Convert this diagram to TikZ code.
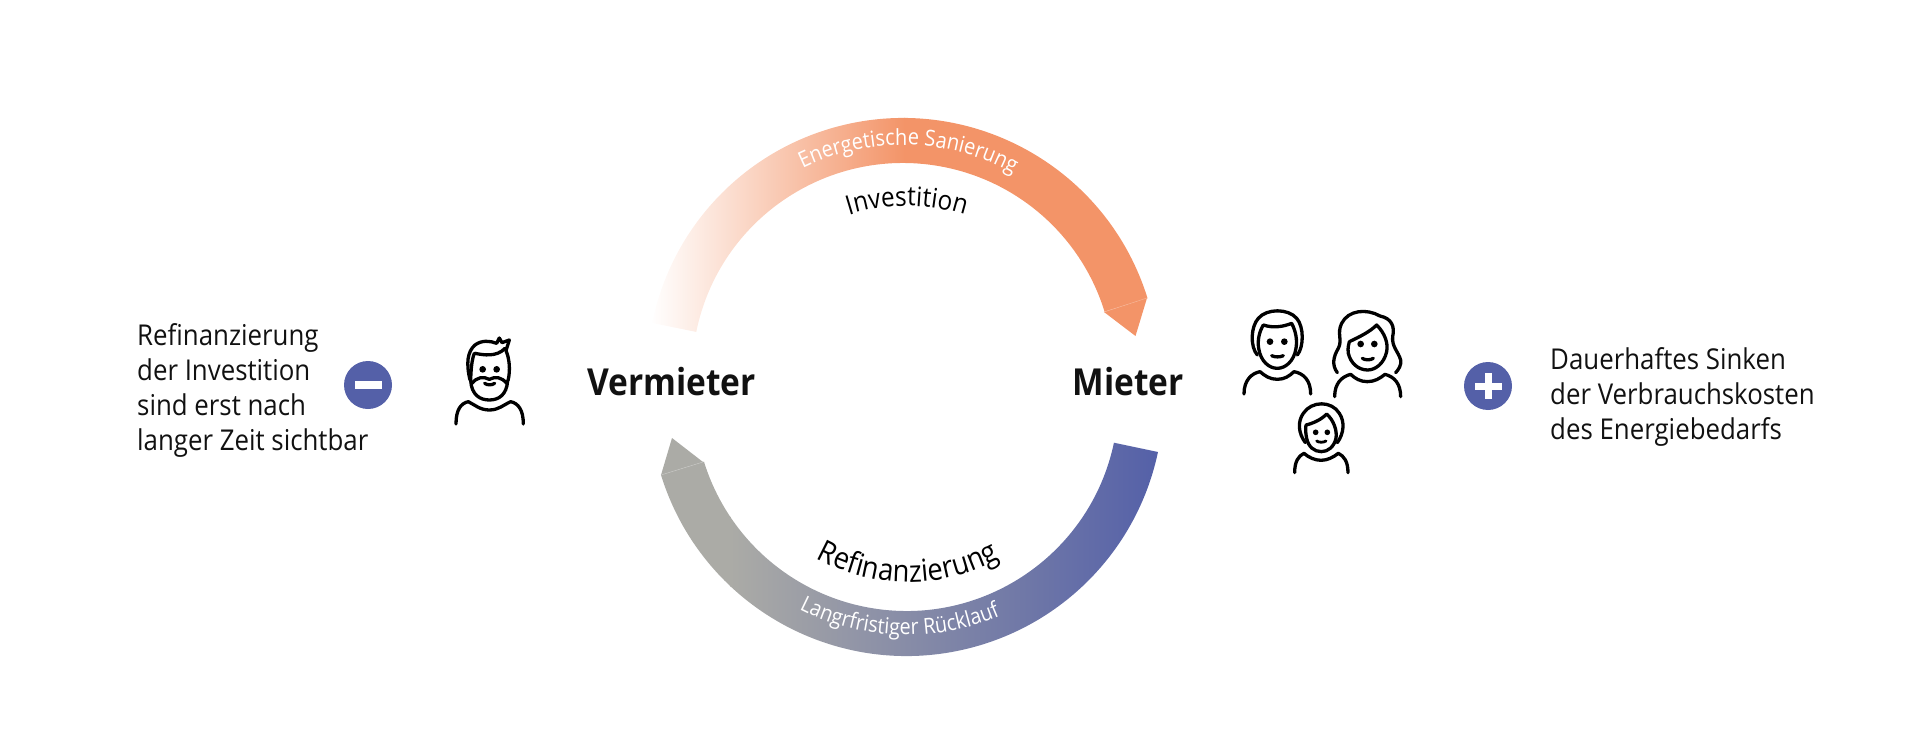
\documentclass[tikz,border=0pt]{standalone}
\usepackage{fontspec}
\usetikzlibrary{decorations.text}
\setmainfont[FakeStretch=0.9]{Open Sans}
\definecolor{orangeA}{HTML}{F39468}
\definecolor{blueA}{HTML}{5460A8}
\definecolor{grayA}{HTML}{ABABA6}
\definecolor{inkA}{HTML}{111111}
\newcommand{\bandpath}[6]{% cx cy Rout Rin a1 a2
  ({#1+#3*cos(#5)},{#2-#3*sin(#5)}) arc[start angle=#5,end angle=#6,radius=#3pt] --
  ({#1+#4*cos(#6)},{#2-#4*sin(#6)}) arc[start angle=#6,end angle=#5,radius=#4pt] -- cycle}
\newcommand{\circlepath}[5]{% cx cy R a1 a2
  ({#1+#3*cos(#4)},{#2-#3*sin(#4)}) arc[start angle=#4,end angle=#5,radius=#3pt]}
\tikzset{
  icon/.style={line width=3.3,line cap=round,line join=round,draw=black,fill=none},
  dot/.style={fill=black,draw=none},
  bodytext/.style={font=\fontsize{28.7}{34.8}\selectfont,text=inkA,align=left,anchor=base west,inner sep=0pt},
  actor/.style={font=\fontsize{37.2}{40}\selectfont\bfseries,text=inkA,anchor=base,inner sep=0pt},
  badge/.style={circle,fill=blueA,minimum size=48,inner sep=0pt}
}
\begin{document}
\begin{tikzpicture}[x=1pt,y=-1pt]
\useasboundingbox (0,0) rectangle (1920,752);
% top arc
\begin{scope}
  \clip \bandpath{903}{374}{256}{211}{17.2}{168.5};
  \shade[left color=white,right color=orangeA] (650,100) rectangle (905,350);
  \fill[orangeA] (904,100) rectangle (1160,350);
\end{scope}
\fill[orangeA] (1147,298) -- (1104,312) -- (1135.5,336) -- cycle;
\draw[orangeA!70!white,line width=.5] (1104,312) -- (1147,298);
% bottom arc
\begin{scope}
  \clip \bandpath{906.5}{399}{257}{212}{197.2}{348.1};
  \shade[left color=grayA,right color=blueA] (730,440) rectangle (1160,665);
  \fill[grayA] (650,430) rectangle (731,665);
\end{scope}
\fill[grayA] (661,475) -- (703,462) -- (672,438) -- cycle;
\draw[grayA!70!white,line width=.5] (661,475) -- (703,462);
% curved labels
\path[decorate,decoration={text along path,text align=center,text color=white,
  text={|\fontsize{22.2}{26}\selectfont|Energetische Sanierung}}]
  \circlepath{903}{374}{229}{133.6}{43.6};
\path[decorate,decoration={text along path,text align=center,text color=black,
  text={|\fontsize{27}{32}\selectfont|Investition}}]
  \circlepath{907}{396}{190}{135}{45};
\path[decorate,decoration={text along path,text align=center,text color=black,
  text={|\fontsize{30.4}{34}\selectfont|Refinanzierung}}]
  \circlepath{908}{392}{190}{225}{315};
\path[decorate,decoration={text along path,text align=center,text color=white,
  text={|\fontsize{22}{26}\selectfont|Langrfristiger Rücklauf}}]
  \circlepath{906.5}{399}{236}{223.2}{313.2};
% actors
\node[actor] (vermieter) at (671.5,395) {Vermieter};
\node[actor] (mieter) at (1128,395) {Mieter};
% side text
\node[bodytext] (lefttext) at (137,450) {Refinanzierung\\der Investition\\sind erst nach\\langer Zeit sichtbar};
\node[bodytext] (righttext) at (1550,439.5) {Dauerhaftes Sinken\\der Verbrauchskosten\\des Energiebedarfs};
% badges
\node[badge] (minus) at (368,385) {};
\fill[white] (354.5,381) rectangle (381.5,389);
\node[badge] (plus) at (1488,386) {};
\fill[white] (1474.5,382.5) rectangle (1501.5,389.5);
\fill[white] (1484.5,373) rectangle (1491.5,399);
% landlord
\begin{scope}[shift={(440,320)},x=.3333pt,y=-.3333pt]
  \draw[icon] (48,312) .. controls (48,270) and (62,250) .. (85,245) .. controls (105,255) and (120,270) .. (148,270) .. controls (176,270) and (190,255) .. (212,245) .. controls (235,250) and (250,270) .. (250,312);
  \draw[icon] (90,180) .. controls (78,130) and (82,95) .. (105,75) .. controls (125,60) and (150,62) .. (170,70) -- (178,54) -- (186,68) -- (208,60) -- (198,92) .. controls (208,115) and (212,150) .. (204,182);
  \draw[icon] (92,182) .. controls (95,225) and (120,240) .. (148,240) .. controls (176,240) and (200,225) .. (203,182);
  \draw[icon] (105,100) .. controls (130,105) and (170,112) .. (195,85);
  \draw[icon] (103,100) .. controls (95,120) and (93,150) .. (92,180);
  \draw[icon] (96,190) .. controls (110,172) and (130,168) .. (148,178) .. controls (166,168) and (186,172) .. (200,190);
  \fill[dot] (128,148) circle (10) (170,148) circle (10);
  \draw[icon] (134,190) .. controls (142,196) and (156,196) .. (164,190);
\end{scope}
% family
\begin{scope}[shift={(1220,290)},x=.3333pt,y=-.3333pt]
  % father
  \draw[icon] (72,312) .. controls (72,270) and (95,250) .. (120,245) .. controls (135,258) and (150,268) .. (172,268) .. controls (194,268) and (208,258) .. (222,245) .. controls (250,250) and (272,270) .. (272,312);
  \draw[icon] (112,195) .. controls (90,170) and (92,110) .. (115,85) .. controls (140,55) and (205,55) .. (230,85) .. controls (252,110) and (252,170) .. (232,195);
  \draw[icon] (130,105) .. controls (160,115) and (190,110) .. (215,100) .. controls (228,125) and (232,150) .. (228,175) .. controls (222,215) and (195,235) .. (172,235) .. controls (148,235) and (122,215) .. (116,175) .. controls (112,150) and (118,125) .. (130,105);
  \fill[dot] (150,155) circle (10) (193,155) circle (10);
  \draw[icon] (155,197) .. controls (165,202) and (180,202) .. (190,197);
  % mother
  \draw[icon] (344,320) .. controls (344,280) and (365,260) .. (392,253) .. controls (405,265) and (420,275) .. (442,275) .. controls (464,275) and (480,265) .. (495,253) .. controls (522,260) and (542,280) .. (542,320);
  \draw[icon] (352,248) .. controls (335,225) and (340,200) .. (355,175) .. controls (368,150) and (350,130) .. (365,100) .. controls (385,60) and (440,55) .. (480,78) .. controls (515,85) and (525,110) .. (518,140) .. controls (515,170) and (535,185) .. (542,210) .. controls (545,225) and (535,240) .. (527,248);
  \draw[icon] (388,155) .. controls (420,140) and (450,125) .. (470,105) .. controls (495,130) and (505,160) .. (500,185) .. controls (492,222) and (465,240) .. (443,240) .. controls (415,240) and (392,220) .. (385,190) .. controls (383,175) and (385,165) .. (388,155);
  \fill[dot] (422,162) circle (10) (463,162) circle (10);
  \draw[icon] (427,205) .. controls (435,211) and (452,211) .. (460,205);
  % child
  \draw[icon] (224,548) .. controls (224,515) and (235,498) .. (252,490) .. controls (265,502) and (285,511) .. (303,511) .. controls (322,511) and (340,502) .. (355,490) .. controls (372,498) and (384,515) .. (384,548);
  \draw[icon] (256,458) .. controls (235,430) and (232,395) .. (250,370) .. controls (275,332) and (335,332) .. (358,370) .. controls (375,395) and (372,430) .. (352,458);
  \draw[icon] (258,405) .. controls (280,400) and (305,388) .. (320,372) .. controls (340,390) and (352,420) .. (348,445) .. controls (342,470) and (325,485) .. (304,485) .. controls (282,485) and (265,470) .. (260,445) .. controls (257,430) and (256,418) .. (258,405);
  \fill[dot] (287,427) circle (8.5) (322,427) circle (8.5);
  \draw[icon,line width=2.8] (290,453) .. controls (297,458) and (310,458) .. (318,453);
\end{scope}
\end{tikzpicture}
\end{document}
